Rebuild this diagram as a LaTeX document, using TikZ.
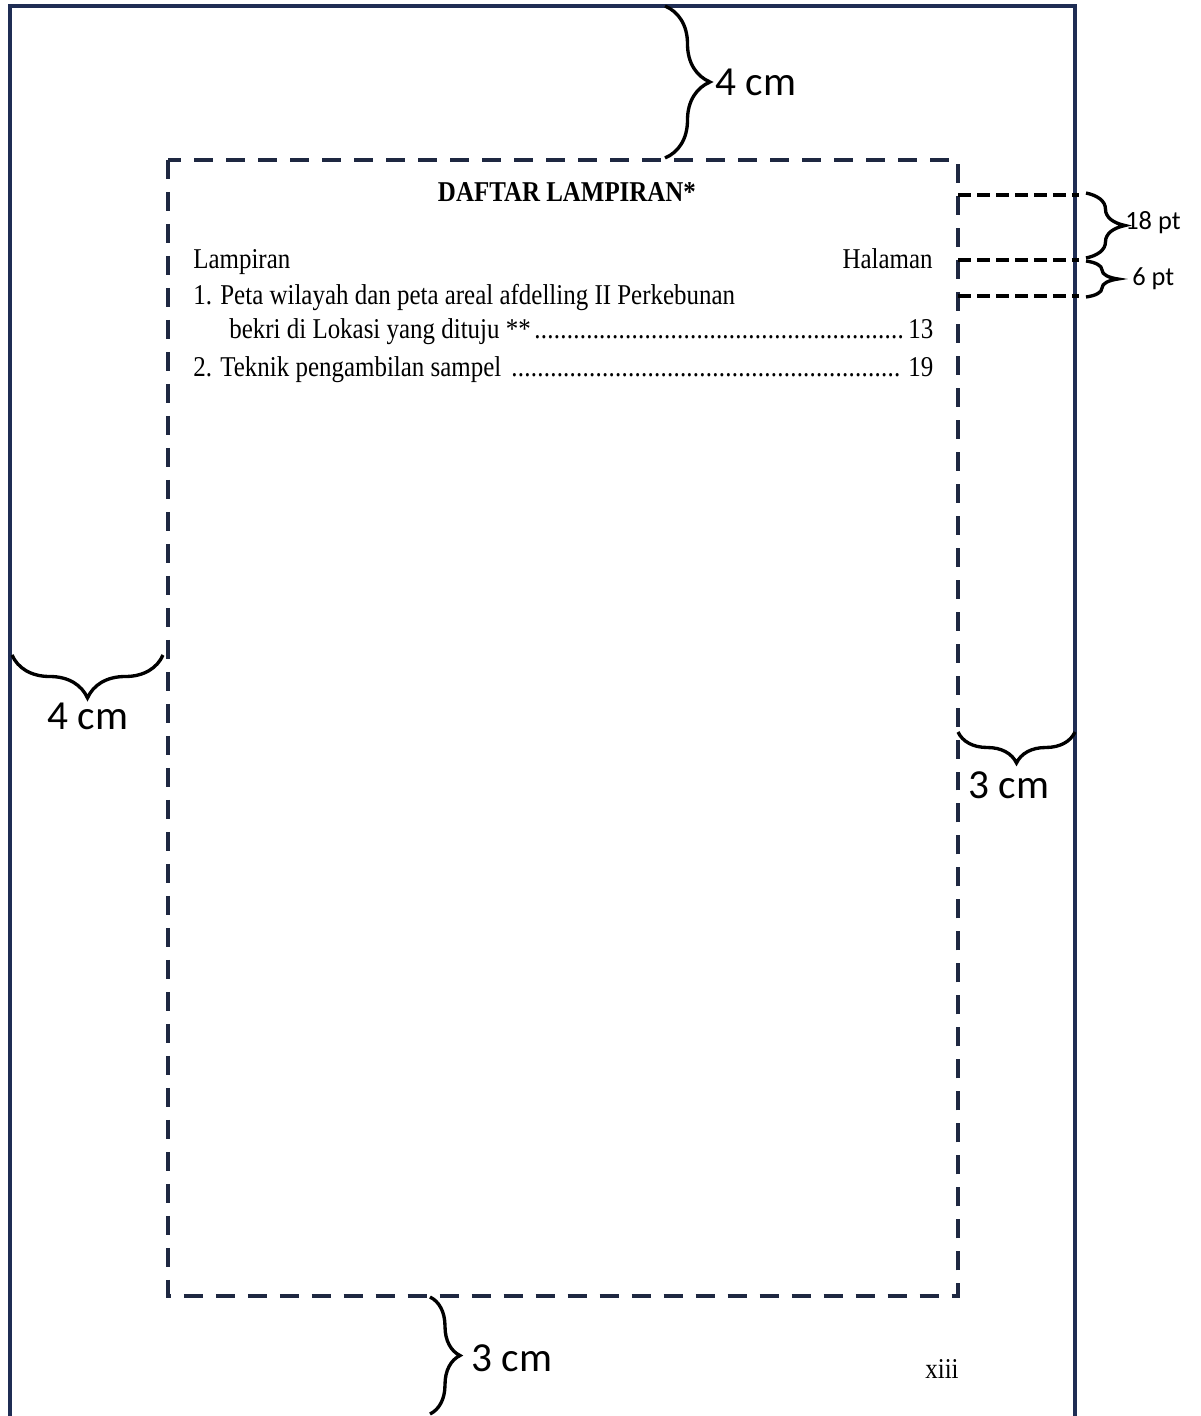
\documentclass[tikz,border=0pt]{standalone}
\usepackage{fontspec}
\usepackage{graphicx}
\setmainfont{Liberation Serif}
\newfontfamily\lblfont{Carlito}
\usetikzlibrary{decorations.pathreplacing}
\definecolor{framenavy}{RGB}{31,45,84}
\definecolor{dashnavy}{RGB}{30,40,65}
\newcommand{\myleaders}{\leaders\hbox to 0.26em{\hss.\hss}\hfill}
\newcommand{\vstretch}[1]{\scalebox{1}[1.15]{#1}}
\tikzset{
  frameline/.style={draw=framenavy, line width=2.27pt},
  marginbox/.style={draw=dashnavy, line width=2.27pt, dash pattern=on 0.38cm off 0.26cm},
  spacingline/.style={draw=black, line width=2.1pt, dash pattern=on 0.26cm off 0.12cm},
  bracebig/.style={draw=black, line width=1.9pt, decorate, decoration={brace, amplitude=#1}},
  doctext/.style={inner sep=0pt, font=\fontsize{14.2}{17}\selectfont},
  biglabel/.style={inner sep=0pt, font=\lblfont\fontsize{23.5}{26}\selectfont},
  smalllabel/.style={inner sep=0pt, font=\lblfont\fontsize{15}{17}\selectfont},
}
\begin{document}
\begin{tikzpicture}[x=0.02cm, y=-0.02cm]
\useasboundingbox (0,0) rectangle (1200,1416);
% outer page frame
\coordinate (fbl) at (10,1422);
\coordinate (ftl) at (10,6);
\coordinate (ftr) at (1075,6);
\coordinate (fbr) at (1075,1422);
\draw[frameline] (fbl) -- (ftl) -- (ftr) -- (fbr);
% margin (text area) box
\coordinate (mtl) at (168,160);
\coordinate (mbr) at (958,1296);
\draw[marginbox] (mtl) rectangle (mbr);
% spacing guide lines
\coordinate (s1a) at (958,195); \coordinate (s1b) at (1079,195);
\coordinate (s2a) at (958,260); \coordinate (s2b) at (1079,260);
\coordinate (s3a) at (958,296); \coordinate (s3b) at (1079,296);
\draw[spacingline] (s1a) -- (s1b);
\draw[spacingline] (s2a) -- (s2b);
\draw[spacingline] (s3a) -- (s3b);
% braces
\coordinate (bt1) at (665,6);   \coordinate (bt2) at (665,158);
\draw[bracebig=0.9cm] (bt1) -- (bt2);
\coordinate (bl1) at (163,655); \coordinate (bl2) at (12,655);
\draw[bracebig=0.86cm] (bl1) -- (bl2);
\coordinate (br1) at (1075,732); \coordinate (br2) at (958,732);
\draw[bracebig=0.62cm] (br1) -- (br2);
\coordinate (bb1) at (430,1297); \coordinate (bb2) at (430,1414);
\draw[bracebig=0.6cm] (bb1) -- (bb2);
\coordinate (b18a) at (1086,193); \coordinate (b18b) at (1086,258);
\draw[bracebig=0.78cm] (b18a) -- (b18b);
\coordinate (b6a) at (1086,261); \coordinate (b6b) at (1086,297);
\draw[bracebig=0.64cm] (b6a) -- (b6b);
% labels
\node[biglabel, anchor=west] (ltop) at (715,82) {4 cm};
\node[biglabel] (lleft) at (88,716) {4 cm};
\node[biglabel] (lright) at (1009,785) {3 cm};
\node[biglabel, anchor=west] (lbot) at (471,1358) {3 cm};
\node[smalllabel, anchor=west] (l18) at (1125,223) {18 pt};
\node[smalllabel, anchor=west] (l6) at (1132,279) {6 pt};
% document text
\node[doctext, anchor=base] (title) at (567,201) {\vstretch{\textbf{DAFTAR LAMPIRAN*}}};
\node[doctext, anchor=base west] (lamp) at (193,268) {\vstretch{Lampiran}};
\node[doctext, anchor=base east] (hal) at (933,268) {\vstretch{Halaman}};
\node[doctext, anchor=base west] (item1a) at (193,304) {\vstretch{1. Peta wilayah dan peta areal afdelling II Perkebunan}};
\node[doctext, anchor=base west] (item1b) at (229,338) {\vstretch{\makebox[14.08cm][s]{bekri di Lokasi yang dituju **\myleaders\,13}}};
\node[doctext, anchor=base west] (item2) at (193,376) {\vstretch{\makebox[14.8cm][s]{2. Teknik pengambilan sampel \myleaders\ 19}}};
\node[doctext, anchor=base west] (pnum) at (925,1378) {\vstretch{xiii}};
\end{tikzpicture}
\end{document}
